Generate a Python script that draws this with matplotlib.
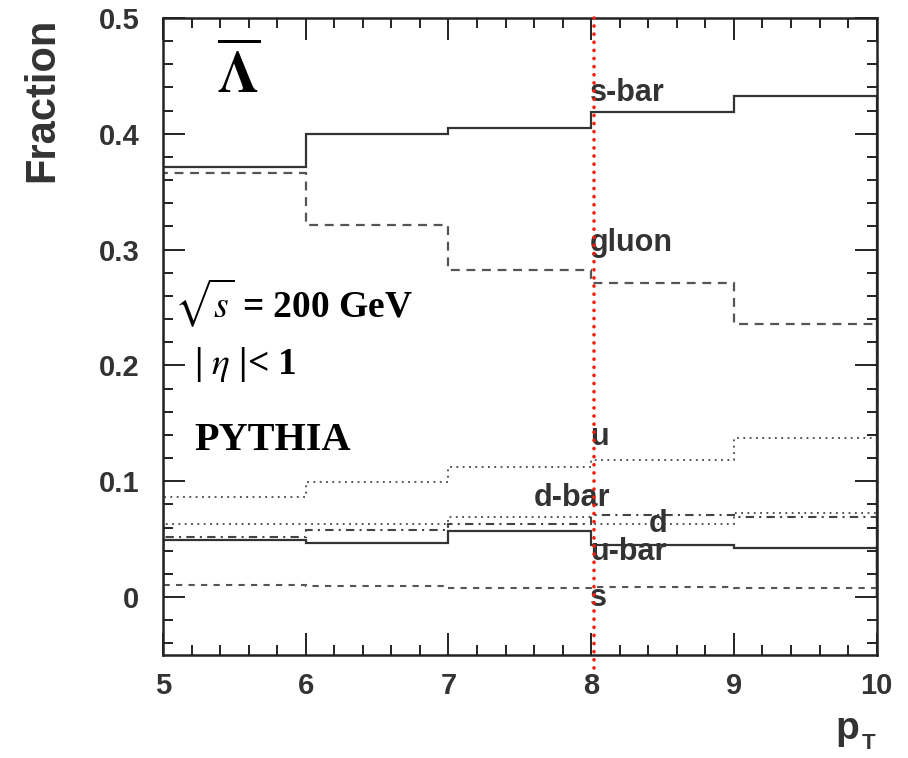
import numpy as np
import matplotlib
matplotlib.use("Agg")
import matplotlib.pyplot as plt
from matplotlib.ticker import MultipleLocator

# pT bin edges and fractions per parton type
edges = [5, 6, 7, 8, 9, 10]
sbar = [0.371, 0.400, 0.405, 0.419, 0.433]
gluon = [0.366, 0.321, 0.282, 0.271, 0.236]
u = [0.086, 0.0995, 0.112, 0.118, 0.137]
d = [0.063, 0.063, 0.069, 0.063, 0.073]
dbar = [0.052, 0.058, 0.063, 0.071, 0.069]
ubar = [0.049, 0.047, 0.057, 0.045, 0.042]
s = [0.010, 0.0094, 0.008, 0.009, 0.008]

curve_labels = ["s-bar", "gluon", "u", "d-bar", "d", "u-bar", "s"]
label_x = [7.99, 7.99, 7.99, 7.6, 8.4, 7.99, 7.99]
label_y = [0.428, 0.299, 0.131, 0.079, 0.0565, 0.032, -0.008]

cut_pt = 8.02

plt.rcParams["mathtext.fontset"] = "stix"
sans = ["Liberation Sans", "DejaVu Sans"]
serif = ["Liberation Serif", "DejaVu Serif"]
grey = "#333333"

fig = plt.figure(figsize=(9.08, 7.58), dpi=100)
ax = fig.add_axes([0.1795, 0.1359, 0.786, 0.8404])

ax.stairs(sbar, edges, color=grey, lw=1.6, ls="-")
ax.stairs(gluon, edges, color="#555555", lw=1.6, ls=(0, (4, 3)))
ax.stairs(u, edges, color="#444444", lw=1.3, ls=(0, (1, 2.5)))
ax.stairs(d, edges, color="#444444", lw=1.3, ls=(0, (1, 2.5)))
ax.stairs(dbar, edges, color="#444444", lw=1.5, ls=(0, (4, 2.5, 1, 2.5)))
ax.stairs(ubar, edges, color=grey, lw=1.6, ls="-")
ax.stairs(s, edges, color="#555555", lw=1.5, ls=(0, (3, 3)))

ax.axvline(cut_pt, ymin=-0.02, ymax=1.0, color="#f02010", lw=2.6,
           ls=(0, (0.05, 2.2)), dash_capstyle="round", clip_on=False, zorder=5)

for txt, x, y in zip(curve_labels, label_x, label_y):
    ax.text(x, y, txt, fontsize=22, fontweight="bold", color=grey,
            family=sans, va="baseline", ha="left")

ax.text(5.38, 0.435, r"$\overline{\mathbf{\Lambda}}$", fontsize=42,
        va="baseline", ha="left")
ax.text(5.08, 0.242, r"$\sqrt{\mathit{s}}$ = 200 GeV", fontsize=27,
        fontweight="bold", family=serif, va="baseline", ha="left")
ax.text(5.22, 0.193, r"| $\eta$ |< 1", fontsize=27, fontweight="bold",
        family=serif, va="baseline", ha="left")
ax.text(5.22, 0.127, "PYTHIA", fontsize=29, fontweight="bold",
        family=serif, va="baseline", ha="left")

ax.set_xlim(5, 10)
ax.set_ylim(-0.05, 0.5)
ax.set_xticks([5, 6, 7, 8, 9, 10])
ax.set_xticklabels(["5", "6", "7", "8", "9", "10"])
ax.set_yticks([0, 0.1, 0.2, 0.3, 0.4, 0.5])
ax.set_yticklabels(["0", "0.1", "0.2", "0.3", "0.4", "0.5"])
ax.xaxis.set_minor_locator(MultipleLocator(0.2))
ax.yaxis.set_minor_locator(MultipleLocator(0.02))
ax.tick_params(which="both", direction="in", top=True, right=True,
               width=1.4, color="#222222")
ax.tick_params(which="major", length=16)
ax.tick_params(which="minor", length=7)
ax.tick_params(axis="y", which="major", pad=17)
ax.tick_params(axis="x", which="major", pad=12)
for lab in ax.get_xticklabels() + ax.get_yticklabels():
    lab.set_fontsize(21)
    lab.set_fontweight("bold")
    lab.set_color(grey)
    lab.set_family(sans)
for sp in ax.spines.values():
    sp.set_linewidth(1.8)
    sp.set_color("#222222")

ax.set_ylabel("Fraction", loc="top", fontsize=30, fontweight="bold",
              color=grey, family=sans, labelpad=26)
fig.text(0.920, 0.025, "p", fontsize=28, fontweight="bold", color=grey,
         family=sans, ha="left", va="baseline")
fig.text(0.949, 0.012, "T", fontsize=16, fontweight="bold", color=grey,
         family=sans, ha="left", va="baseline")

fig.savefig("out.png", dpi=100)
